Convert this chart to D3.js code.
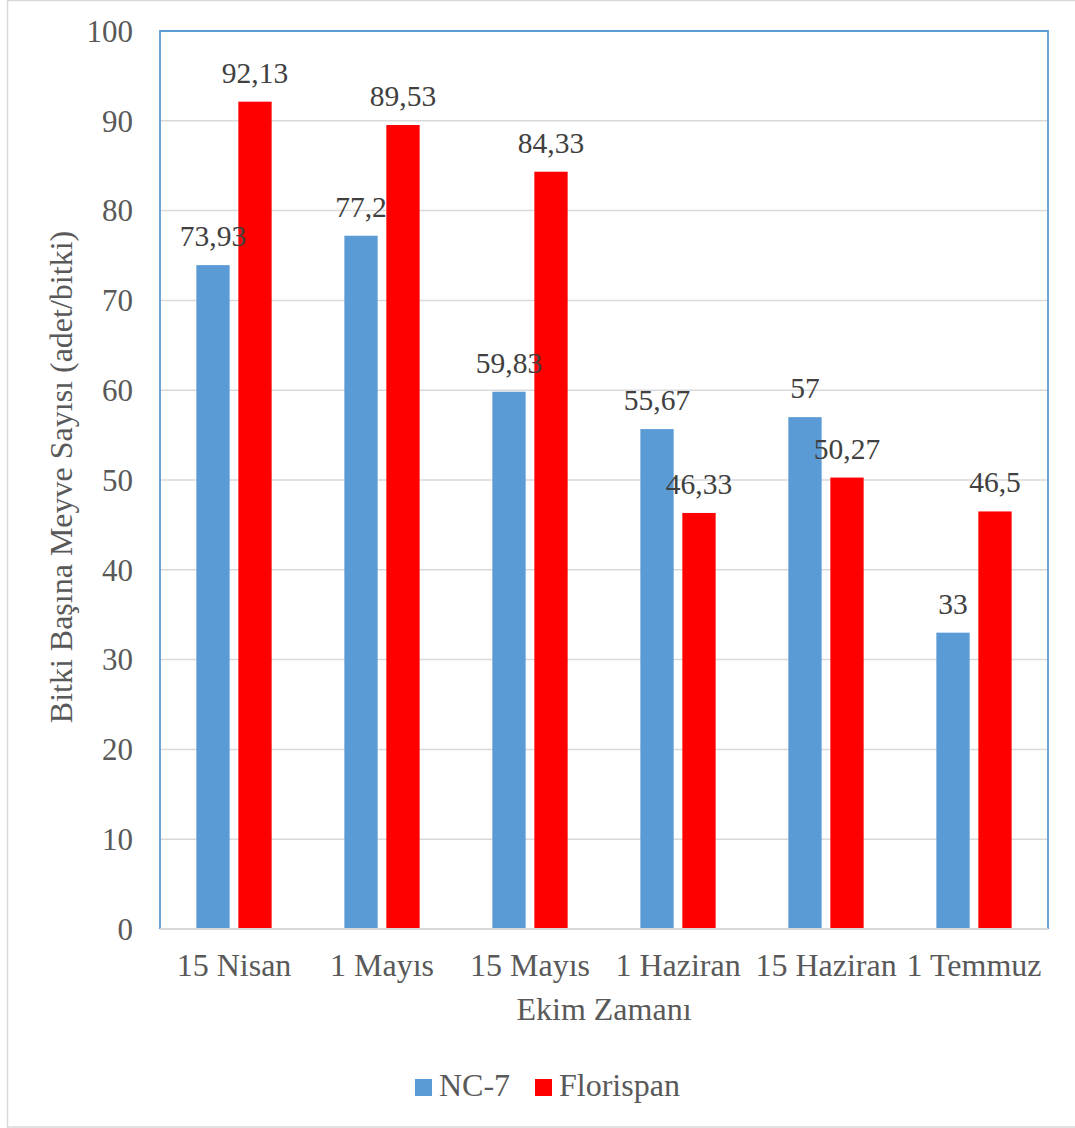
<!DOCTYPE html>
<html>
<head>
<meta charset="utf-8">
<script src="https://cdn.jsdelivr.net/npm/d3@7"></script>
<style>
  html, body { margin: 0; padding: 0; background: #fff; }
  svg { display: block; }
  svg text { font-family: "Liberation Serif", "Tinos", "Times New Roman", "DejaVu Serif", serif !important; }
</style>
</head>
<body>
<svg id="chart" width="1075" height="1128"></svg>
<script>
// Planting dates and fruit counts per plant for two cultivars
const categories = ["15 Nisan", "1 Mayıs", "15 Mayıs", "1 Haziran", "15 Haziran", "1 Temmuz"];
const seriesNames = ["NC-7", "Florispan"];
const nc7 = [73.93, 77.2, 59.83, 55.67, 57, 33];
const florispan = [92.13, 89.53, 84.33, 46.33, 50.27, 46.5];
const nc7Labels = ["73,93", "77,2", "59,83", "55,67", "57", "33"];
const florispanLabels = ["92,13", "89,53", "84,33", "46,33", "50,27", "46,5"];
const yTicks = [0, 10, 20, 30, 40, 50, 60, 70, 80, 90, 100];
const xTitle = "Ekim Zamanı";
const yTitle = "Bitki Başına Meyve Sayısı (adet/bitki)";

const colors = { "NC-7": "#5b9bd5", "Florispan": "#ff0000" };

const svg = d3.select("#chart");
const W = 1075, H = 1128;
const plot = { left: 160, right: 1048, top: 31, bottom: 929 };

// outer chart frame
svg.append("rect")
  .attr("x", 7.5).attr("y", 0.5)
  .attr("width", W + 10).attr("height", H - 1.5)
  .attr("fill", "#fff").attr("stroke", "#d9d9d9").attr("stroke-width", 1.5);

const x = d3.scaleBand().domain(categories).range([plot.left, plot.right]).padding(0);
const groupWidth = 75.3;
const xSub = d3.scaleBand().domain(seriesNames).range([0, groupWidth]).paddingInner(0.207).paddingOuter(0);
const y = d3.scaleLinear().domain([0, 100]).range([plot.bottom, plot.top]);

// gridlines
svg.append("g")
  .selectAll("line")
  .data(yTicks.filter(t => t > 0))
  .join("line")
  .attr("x1", plot.left).attr("x2", plot.right)
  .attr("y1", d => y(d)).attr("y2", d => y(d))
  .attr("stroke", "#d9d9d9").attr("stroke-width", 1.5);

// y tick labels via axis generator
const yAxis = svg.append("g")
  .attr("transform", `translate(${plot.left},0)`)
  .call(d3.axisLeft(y).tickValues(yTicks).tickSize(0).tickPadding(27).tickFormat(d3.format("d")));
yAxis.attr("font-family", null).attr("font-size", null);
yAxis.select(".domain").remove();
yAxis.selectAll("text")
  .attr("font-size", 31)
  .attr("fill", "#595959")
  .attr("dy", "0.33em");

// data table
const rows = categories.map((c, i) => ({
  cat: c,
  vals: [
    { s: "NC-7", v: nc7[i], label: nc7Labels[i] },
    { s: "Florispan", v: florispan[i], label: florispanLabels[i] }
  ]
}));

const groups = svg.append("g")
  .selectAll("g")
  .data(rows)
  .join("g")
  .attr("transform", d => `translate(${x(d.cat) + (x.bandwidth() - groupWidth) / 2},0)`);

groups.selectAll("rect")
  .data(d => d.vals)
  .join("rect")
  .attr("x", d => xSub(d.s))
  .attr("y", d => y(d.v))
  .attr("width", xSub.bandwidth())
  .attr("height", d => y(0) - y(d.v))
  .attr("fill", d => colors[d.s]);

// value labels above bars
groups.selectAll("text.val")
  .data(d => d.vals)
  .join("text")
  .attr("class", "val")
  .attr("x", d => xSub(d.s) + xSub.bandwidth() / 2)
  .attr("y", d => y(d.v) - 19)
  .attr("text-anchor", "middle")
  .attr("font-size", 29.5)
  .attr("fill", "#404040")
  .text(d => d.label);

// plot frame: blue left/top/right, grey baseline
svg.append("path")
  .attr("d", `M${plot.left},${plot.bottom} V${plot.top} H${plot.right} V${plot.bottom}`)
  .attr("fill", "none").attr("stroke", "#5b9bd5").attr("stroke-width", 1.8);
svg.append("line")
  .attr("x1", plot.left).attr("x2", plot.right)
  .attr("y1", plot.bottom).attr("y2", plot.bottom)
  .attr("stroke", "#d9d9d9").attr("stroke-width", 2);

// category axis labels
const xAxis = svg.append("g")
  .attr("transform", `translate(0,${plot.bottom})`)
  .call(d3.axisBottom(x).tickSize(0).tickPadding(0));
xAxis.attr("font-family", null).attr("font-size", null);
xAxis.select(".domain").remove();
xAxis.selectAll("text")
  .attr("font-size", 32)
  .attr("fill", "#595959")
  .attr("dy", null)
  .attr("y", 47);

// axis titles
svg.append("text")
  .attr("x", (plot.left + plot.right) / 2)
  .attr("y", 1020)
  .attr("text-anchor", "middle")
  .attr("font-size", 32)
  .attr("fill", "#595959")
  .text(xTitle);

svg.append("text")
  .attr("transform", `translate(72,${(plot.top + plot.bottom) / 2 - 3}) rotate(-90)`)
  .attr("text-anchor", "middle")
  .attr("font-size", 32)
  .attr("fill", "#595959")
  .text(yTitle);

// legend
const legend = svg.append("g");
const legendX = [415, 535];
seriesNames.forEach((s, i) => {
  legend.append("rect")
    .attr("x", legendX[i]).attr("y", 1079)
    .attr("width", 17).attr("height", 17)
    .attr("fill", colors[s]);
  legend.append("text")
    .attr("x", legendX[i] + 24).attr("y", 1096)
    .attr("font-size", 32)
    .attr("fill", "#595959")
    .text(s);
});
</script>
</body>
</html>
